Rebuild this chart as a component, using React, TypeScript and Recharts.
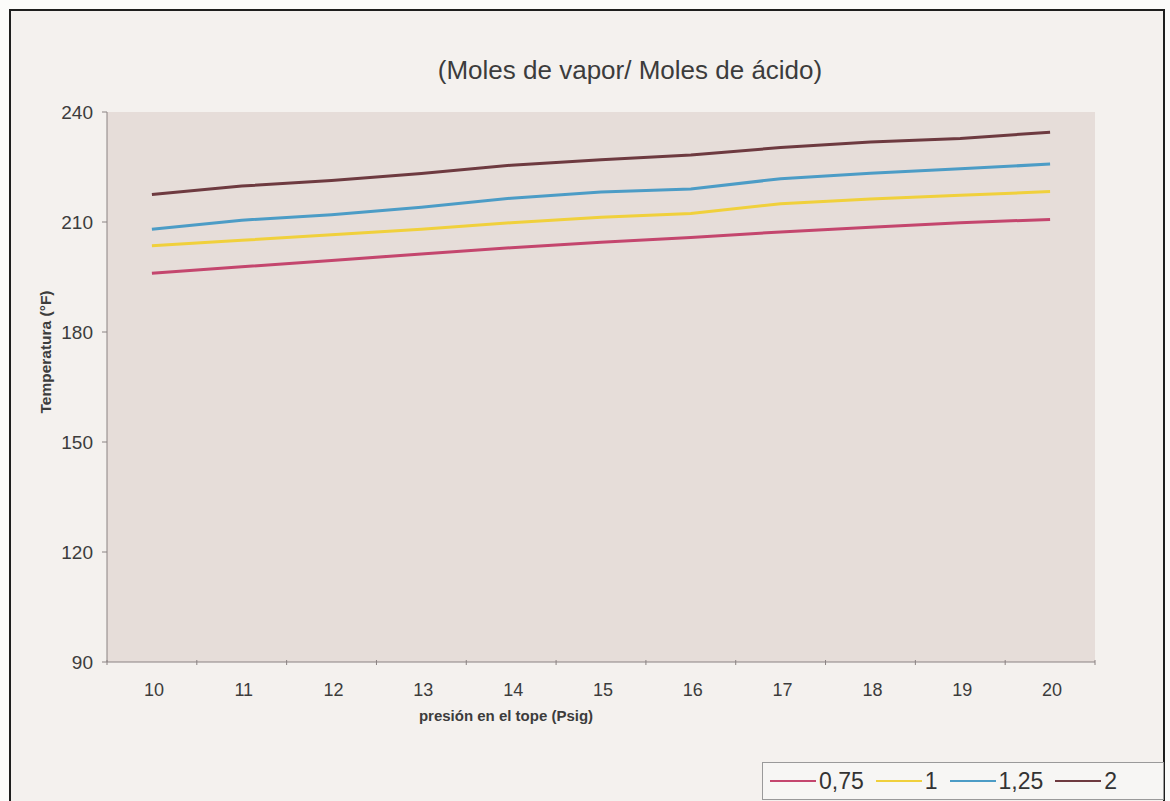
import React from 'react';
import { LineChart, Line, XAxis, YAxis, CartesianGrid, Legend } from 'recharts';

document.body.style.margin = '0';

// presión en el tope (Psig)
const pressure = [10, 11, 12, 13, 14, 15, 16, 17, 18, 19, 20];

// temperatura (°F) per ratio moles de vapor / moles de ácido
const ratio075 = [196, 197.8, 199.5, 201.3, 203, 204.5, 205.8, 207.3, 208.6, 209.8, 210.7];
const ratio1 = [203.5, 205, 206.5, 208, 209.8, 211.3, 212.3, 215, 216.3, 217.3, 218.3];
const ratio125 = [208, 210.5, 212, 214, 216.5, 218.2, 219, 221.8, 223.3, 224.5, 225.8];
const ratio2 = [217.5, 219.8, 221.3, 223.2, 225.5, 227, 228.3, 230.3, 231.8, 232.8, 234.5];

const yTicks = [90, 120, 150, 180, 210, 240];

const series = [
  { key: 'r075', name: '0,75', color: '#c4466e', values: ratio075 },
  { key: 'r1', name: '1', color: '#f0d03c', values: ratio1 },
  { key: 'r125', name: '1,25', color: '#4c9cc6', values: ratio125 },
  { key: 'r2', name: '2', color: '#6e3a40', values: ratio2 },
];

const data = pressure.map((p, i) => {
  const row: Record<string, number | string> = { p: String(p) };
  series.forEach((s) => { row[s.key] = s.values[i]; });
  return row;
});

const W = 1170;
const H = 801;
const margin = { top: 112, right: 75, left: 47, bottom: 0 };
const Y_W = 60;
const PLOT_W = W - margin.left - margin.right - Y_W;
const BAND = PLOT_W / pressure.length;
const FONT = '"Liberation Sans", Arial, sans-serif';
const TXT = '#3c3c3c';

const XTick = (props: any) => {
  const { x, y, payload, index } = props;
  const left = x - BAND / 2;
  return (
    <g>
      <line x1={left} x2={left} y1={y - 10} y2={y - 5} stroke="#8a8282" />
      {index === pressure.length - 1 && (
        <line x1={x + BAND / 2} x2={x + BAND / 2} y1={y - 10} y2={y - 5} stroke="#8a8282" />
      )}
      <text x={x + 2} y={y + 26} textAnchor="middle" fontSize={18} fill={TXT} fontFamily={FONT}>
        {payload.value}
      </text>
    </g>
  );
};

const renderLegend = () => (
  <div
    style={{
      boxSizing: 'border-box',
      height: 38,
      width: 402,
      border: '1px solid #9a9a9a',
      background: '#f7f6f4',
      display: 'flex',
      alignItems: 'center',
      paddingLeft: 7,
      fontFamily: FONT,
      fontSize: 23,
      color: '#333',
    }}
  >
    {series.map((s) => (
      <div key={s.key} style={{ display: 'flex', alignItems: 'center', marginRight: 12 }}>
        <span style={{ display: 'inline-block', width: 46, height: 2, background: s.color, marginRight: 3 }} />
        <span>{s.name}</span>
      </div>
    ))}
  </div>
);

export default function App() {
  return (
    <div style={{ position: 'relative', width: W, height: H, background: '#fbfbfa', overflow: 'hidden' }}>
      <div
        style={{
          position: 'absolute',
          left: 9,
          top: 9,
          width: W - 9 - 5,
          height: H,
          boxSizing: 'border-box',
          borderTop: '2px solid #1e1e1e',
          borderLeft: '2px solid #1e1e1e',
          borderRight: '2px solid #1e1e1e',
          background: '#f4f1ee',
        }}
      />
      <div
        style={{
          position: 'absolute',
          top: 55,
          left: 330,
          width: 600,
          textAlign: 'center',
          fontFamily: FONT,
          fontSize: 26,
          color: TXT,
        }}
      >
        (Moles de vapor/ Moles de ácido)
      </div>
      <div style={{ position: 'absolute', left: 0, top: 0 }}>
        <LineChart width={W} height={H} data={data} margin={margin}>
          <CartesianGrid horizontal={false} vertical={false} fill="#e6ddd9" />
          <XAxis
            dataKey="p"
            height={101}
            padding={{ left: BAND / 2, right: BAND / 2 }}
            axisLine={{ stroke: '#8a8282' }}
            tickLine={false}
            tick={<XTick />}
            interval={0}
            label={{
              value: 'presión en el tope (Psig)',
              position: 'insideTop',
              offset: 48,
              dx: -95,
              fill: TXT,
              fontSize: 15,
              fontWeight: 'bold',
              fontFamily: FONT,
            }}
          />
          <XAxis xAxisId="top" dataKey="p" orientation="top" height={0} tick={false} tickLine={false} axisLine={{ stroke: '#9a9090' }} />
          <YAxis
            domain={[90, 240]}
            ticks={yTicks}
            width={Y_W}
            interval={0}
            axisLine={{ stroke: '#8a8282' }}
            tickLine={{ stroke: '#8a8282' }}
            tickSize={5}
            tickMargin={9}
            tick={{ fill: TXT, fontSize: 19, fontFamily: FONT }}
            label={{
              value: 'Temperatura (°F)',
              angle: -90,
              position: 'insideLeft',
              textAnchor: 'middle',
              offset: -2,
              dy: -35,
              fill: TXT,
              fontSize: 15.5,
              fontWeight: 'bold',
              fontFamily: FONT,
            }}
          />
          <YAxis yAxisId="right" orientation="right" width={0} tick={false} tickLine={false} axisLine={{ stroke: '#9a9090' }} />
          <Legend
            verticalAlign="bottom"
            align="right"
            content={renderLegend}
            wrapperStyle={{ right: 6, bottom: 1, width: 402 }}
          />
          {series.map((s) => (
            <Line
              key={s.key}
              type="linear"
              dataKey={s.key}
              name={s.name}
              stroke={s.color}
              strokeWidth={3}
              dot={false}
              activeDot={false}
              isAnimationActive={false}
            />
          ))}
        </LineChart>
      </div>
    </div>
  );
}
